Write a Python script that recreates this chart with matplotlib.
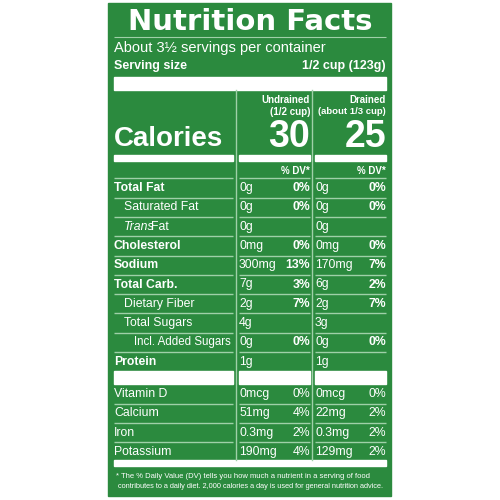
import matplotlib
matplotlib.use("Agg")
import matplotlib.pyplot as plt

GREEN = "#2b8a3e"
LINE = "#9fd0a8"
NARROW = ["Liberation Sans Narrow", "Liberation Sans", "DejaVu Sans"]

rows = ["Total Fat", "Saturated Fat", "Trans Fat", "Cholesterol", "Sodium",
        "Total Carb.", "Dietary Fiber", "Total Sugars", "Incl. Added Sugars", "Protein"]
row_bold = [True, False, False, True, True, True, False, False, False, True]
row_indent = [0, 1, 1, 0, 0, 0, 1, 1, 2, 0]
undrained_amt = ["0g", "0g", "0g", "0mg", "300mg", "7g", "2g", "4g", "0g", "1g"]
undrained_dv = ["0%", "0%", "", "0%", "13%", "3%", "7%", "", "0%", ""]
drained_amt = ["0g", "0g", "0g", "0mg", "170mg", "6g", "2g", "3g", "0g", "1g"]
drained_dv = ["0%", "0%", "", "0%", "7%", "2%", "7%", "", "0%", ""]

micros = ["Vitamin D", "Calcium", "Iron", "Potassium"]
micro_und_amt = ["0mcg", "51mg", "0.3mg", "190mg"]
micro_und_dv = ["0%", "4%", "2%", "4%"]
micro_dr_amt = ["0mcg", "22mg", "0.3mg", "129mg"]
micro_dr_dv = ["0%", "2%", "2%", "2%"]

calories = ["30", "25"]

fig = plt.figure(figsize=(5, 5), dpi=100)
ax = fig.add_axes([0, 0, 1, 1])
ax.set_xlim(0, 500); ax.set_ylim(500, 0); ax.axis("off")
ax.add_patch(plt.Rectangle((108, 3), 283, 493, color=GREEN))

def t(x, y, s, size=8.8, bold=False, ha="left", fam=NARROW, style="normal"):
    ax.text(x, y, s, fontsize=size, color="white", ha=ha, va="center",
            fontweight="bold" if bold else "normal", family=fam, style=style)

def hline(y, x0, x1, lw=1.0, c=LINE):
    ax.plot([x0, x1], [y, y], color=c, lw=lw, solid_capstyle="butt")

L, R = 114, 386
C1a, C1b, C2a, C2b = 239, 310, 315, 386
segs = [(L, 233), (C1a, C1b), (C2a, C2b)]

t(250, 22, "Nutrition Facts", size=21, bold=True, ha="center", fam=["DejaVu Sans"])
hline(36.5, L, R, lw=0.8)
t(L, 48, "About 3½ servings per container", size=10.5)
t(L, 66, "Serving size", size=9, bold=True)
t(R, 66, "1/2 cup (123g)", size=9, bold=True, ha="right")
ax.add_patch(plt.Rectangle((L, 77), R - L, 13, color="white"))

for x in (236, 312):
    ax.plot([x, x], [90, 460], color=LINE, lw=1.0)

t(C1b, 100, "Undrained", size=7, bold=True, ha="right")
t(C1b, 112, "(1/2 cup)", size=7, bold=True, ha="right")
t(C2b, 100, "Drained", size=7, bold=True, ha="right")
t(C2b, 112, "(about 1/3 cup)", size=6.8, bold=True, ha="right")
t(L, 139, "Calories", size=20, bold=True)
t(C1b, 137, calories[0], size=27, bold=True, ha="right")
t(C2b, 137, calories[1], size=27, bold=True, ha="right")
for a, b in segs:
    ax.add_patch(plt.Rectangle((a, 155), b - a, 6, color="white"))
t(C1b, 171, "% DV*", size=7, bold=True, ha="right")
t(C2b, 171, "% DV*", size=7, bold=True, ha="right")
for a, b in segs:
    hline(177.5, a, b)

pitch = 19.3
for i, name in enumerate(rows):
    y = 188 + pitch * i
    x = L + 10 * row_indent[i]
    if name == "Trans Fat":
        ax.text(x, y, "Trans", fontsize=8.8, color="white", va="center", family=NARROW, style="italic")
        t(x + 27, y, "Fat")
    else:
        t(x, y, name, bold=row_bold[i], size=8.3 if row_indent[i] == 2 else 8.8)
    t(C1a, y, undrained_amt[i])
    t(C1b, y, undrained_dv[i], bold=True, ha="right")
    t(C2a, y, drained_amt[i])
    t(C2b, y, drained_dv[i], bold=True, ha="right")
    if i < len(rows) - 1:
        for a, b in segs:
            hline(y + 9.6, a, b)

for a, b in segs:
    ax.add_patch(plt.Rectangle((a, 371), b - a, 13, color="white"))

for j, name in enumerate(micros):
    y = 394 + pitch * j
    t(L, y, name)
    t(C1a, y, micro_und_amt[j])
    t(C1b, y, micro_und_dv[j], ha="right")
    t(C2a, y, micro_dr_amt[j])
    t(C2b, y, micro_dr_dv[j], ha="right")
    if j < len(micros) - 1:
        for a, b in segs:
            hline(y + 9.6, a, b)

ax.add_patch(plt.Rectangle((L, 460), R - L, 6, color="white"))
t(116, 476, "* The % Daily Value (DV) tells you how much a nutrient in a serving of food", size=5.5)
t(118, 487, "contributes to a daily diet. 2,000 calories a day is used for general nutrition advice.", size=5.3)

fig.savefig("out.png", dpi=100)
